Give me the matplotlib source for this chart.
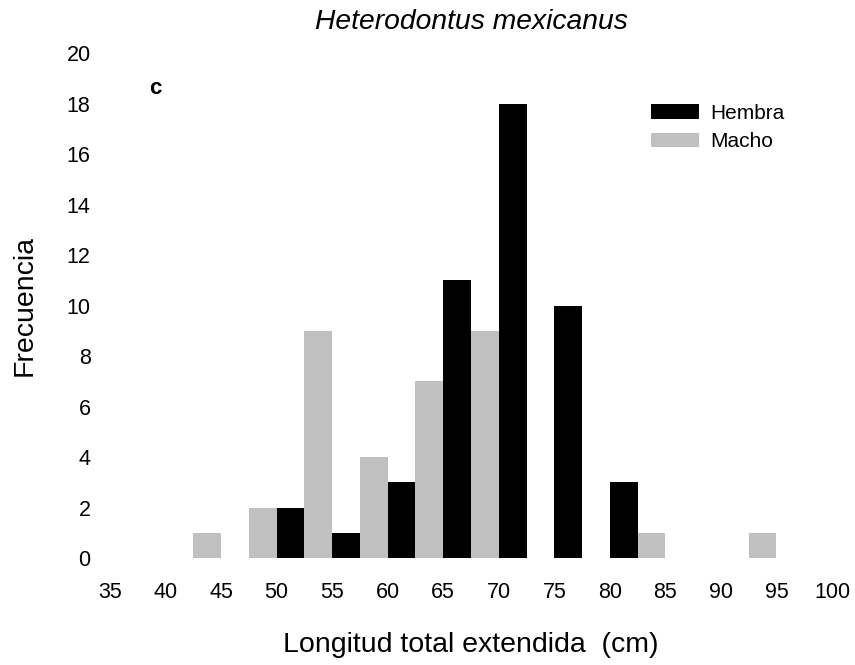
import matplotlib
matplotlib.use("Agg")
import matplotlib.pyplot as plt
import numpy as np

plt.rcParams['font.family'] = ['Liberation Sans', 'DejaVu Sans']

# class marks (cm) and counts
tallas = [35, 40, 45, 50, 55, 60, 65, 70, 75, 80, 85, 90, 95, 100]
hembra = [0, 0, 0, 2, 1, 3, 11, 18, 10, 3, 0, 0, 0, 0]
macho = [0, 0, 1, 2, 9, 4, 7, 9, 0, 0, 1, 0, 1, 0]

x = np.array(tallas, dtype=float)
w = 2.5

fig = plt.figure(figsize=(8.55, 6.65), dpi=100)
ax = fig.add_axes([0.1287, 0.1609, 0.8444, 0.7594])

ax.bar(x - w, macho, width=w, align='edge', color='#c0c0c0', label='Macho', zorder=2)
ax.bar(x, hembra, width=w, align='edge', color='black', label='Hembra', zorder=2)

ax.set_xlim(35, 100)
ax.set_ylim(0, 20)
ax.set_xticks(tallas)
ax.set_yticks(range(0, 21, 2))
ax.tick_params(axis='both', length=0, labelsize=15.5)
ax.tick_params(axis='y', pad=14)
ax.tick_params(axis='x', pad=17)
for s in ax.spines.values():
    s.set_visible(False)

ax.set_xlabel('Longitud total extendida  (cm)', fontsize=20.5, labelpad=21)
ax.set_ylabel('Frecuencia', fontsize=20.5, labelpad=21)
ax.set_title('Heterodontus mexicanus', fontsize=20.3, style='italic', pad=17)
ax.text(0.063, 0.929, 'c', transform=ax.transAxes, fontsize=16, fontweight='bold',
        ha='center', va='center')

handles, labels = ax.get_legend_handles_labels()
ax.legend(handles[::-1], labels[::-1], loc='upper left', bbox_to_anchor=(0.735, 0.92),
          frameon=False, fontsize=15, borderpad=0, handlelength=2.3,
          handleheight=0.7, handletextpad=0.55, labelspacing=0.45)

fig.savefig('out.png', dpi=100)
